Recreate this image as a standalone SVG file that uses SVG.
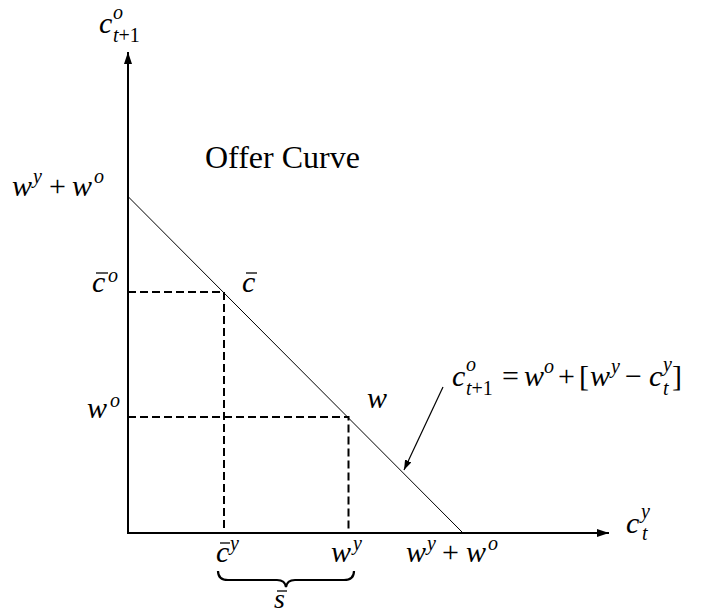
<svg xmlns="http://www.w3.org/2000/svg" width="720" height="615" viewBox="0 0 720 615">
<defs>
<marker id="ah" viewBox="0 0 12 8" refX="12" refY="4" markerWidth="12" markerHeight="8" markerUnits="userSpaceOnUse" orient="auto">
<path d="M0,0 L12,4 L0,8 Z" fill="#000"/>
</marker>
<marker id="ah2" viewBox="0 0 10 7" refX="10" refY="3.5" markerWidth="10" markerHeight="7" markerUnits="userSpaceOnUse" orient="auto">
<path d="M0,0 L10,3.5 L0,7 Z" fill="#000"/>
</marker>
<style>
.m{font-family:"Liberation Serif","Times New Roman",serif;font-style:italic;font-size:30px;fill:#000}
.r{font-family:"Liberation Serif","Times New Roman",serif;font-style:normal;font-size:30px}
.s{font-size:20px}
.axis{stroke:#000;stroke-width:2;fill:none}
.dash{stroke:#000;stroke-width:2;stroke-dasharray:8,4;fill:none}
.bar{stroke:#000;stroke-width:1.3}
</style>
</defs>
<rect width="720" height="615" fill="#fff"/>
<g id="connectors">
<line class="axis" x1="128" y1="533" x2="128" y2="52" marker-end="url(#ah)"/>
<line class="axis" x1="127" y1="533" x2="609" y2="533" marker-end="url(#ah)"/>
<line x1="128" y1="196.5" x2="463" y2="533" stroke="#000" stroke-width="1"/>
<polyline class="dash" points="128,292 224,292 224,533"/>
<polyline class="dash" points="128,417 348.5,417 348.5,533"/>
<line x1="443" y1="387" x2="404" y2="470" stroke="#000" stroke-width="1.2" marker-end="url(#ah2)"/>
<path d="M218,571 Q218,580 228,580 L277,580 Q285,580 286,587 Q287,580 295,580 L344,580 Q354,580 354,571" fill="none" stroke="#000" stroke-width="2.2"/>
</g>
<g id="label-yaxis">
<text class="m"><tspan x="99" y="33">c</tspan><tspan class="s" x="113" y="19">o</tspan><tspan class="s" x="113" y="42">t</tspan><tspan class="r s">+1</tspan></text>
</g>
<g id="label-offer">
<text class="r" x="205" y="168" style="font-size:32px">Offer Curve</text>
</g>
<g id="label-wywo-left">
<text class="m"><tspan x="12" y="196">w</tspan><tspan class="s" x="33" y="183">y</tspan><tspan class="r" x="49" y="196">+</tspan><tspan x="72" y="196">w</tspan><tspan class="s" x="94" y="183">o</tspan></text>
</g>
<g id="label-cbar-o">
<text class="m"><tspan x="92" y="292">c</tspan><tspan class="s" x="108" y="282">o</tspan></text>
<line class="bar" x1="96" y1="273" x2="108" y2="273"/>
</g>
<g id="label-cbar">
<text class="m" x="242" y="292">c</text>
<line class="bar" x1="246" y1="273" x2="257" y2="273"/>
</g>
<g id="label-wo">
<text class="m"><tspan x="87" y="418">w</tspan><tspan class="s" x="110" y="407">o</tspan></text>
</g>
<g id="label-w">
<text class="m" x="367" y="408">w</text>
</g>
<g id="label-equation">
<text class="m"><tspan x="452" y="386">c</tspan><tspan class="s" x="466" y="371">o</tspan><tspan class="s" x="466" y="395">t</tspan><tspan class="r s">+1</tspan><tspan class="r" x="502" y="386">=</tspan><tspan x="524" y="386">w</tspan><tspan class="s" x="544" y="373">o</tspan><tspan class="r" x="558" y="386">+</tspan><tspan class="r" x="579" y="386">[</tspan><tspan x="590" y="386">w</tspan><tspan class="s" x="611" y="373">y</tspan><tspan class="r" x="625" y="386">−</tspan><tspan x="649" y="386">c</tspan><tspan class="s" x="663" y="371">y</tspan><tspan class="s" x="663" y="395">t</tspan><tspan class="r" x="672" y="386">]</tspan></text>
</g>
<g id="label-xaxis">
<text class="m"><tspan x="626" y="533">c</tspan><tspan class="s" x="641" y="518">y</tspan><tspan class="s" x="642" y="540">t</tspan></text>
</g>
<g id="label-cbar-y">
<text class="m"><tspan x="216" y="562">c</tspan><tspan class="s" x="230" y="550">y</tspan></text>
<line class="bar" x1="220" y1="543" x2="230" y2="543"/>
</g>
<g id="label-wy">
<text class="m"><tspan x="331" y="562">w</tspan><tspan class="s" x="353" y="550">y</tspan></text>
</g>
<g id="label-wywo-bottom">
<text class="m"><tspan x="406" y="562">w</tspan><tspan class="s" x="427" y="550">y</tspan><tspan class="r" x="442" y="562">+</tspan><tspan x="466" y="562">w</tspan><tspan class="s" x="488" y="550">o</tspan></text>
</g>
<g id="label-sbar">
<text class="m" x="274" y="608" style="font-size:28px">s</text>
<line class="bar" x1="277" y1="591" x2="287" y2="591"/>
</g>
</svg>
